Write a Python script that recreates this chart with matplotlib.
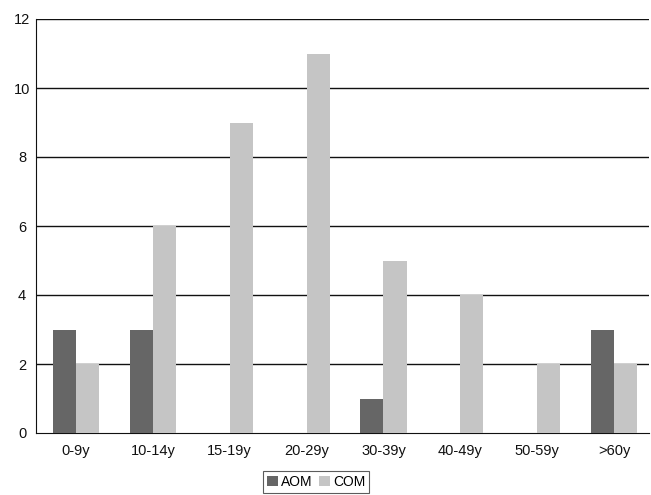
import matplotlib
matplotlib.use("Agg")
import matplotlib.pyplot as plt
import numpy as np

categories = ["0-9y", "10-14y", "15-19y", "20-29y", "30-39y", "40-49y", "50-59y", ">60y"]
aom = [3, 3, 0, 0, 1, 0, 0, 3]
com = [2, 6, 9, 11, 5, 4, 2, 2]
yticks = [0, 2, 4, 6, 8, 10, 12]

plt.rcParams['font.family'] = ['Liberation Sans', 'DejaVu Sans']

fig = plt.figure(figsize=(6.51, 4.95), dpi=100)
ax = fig.add_axes([36/651, 62/495, 612.7/651, 414/495])

x = np.arange(len(categories))
w = 0.3
ax.bar(x - w/2, aom, w, color="#666666", label="AOM", zorder=3)
ax.bar(x + w/2, com, w, color="#c5c5c5", label="COM", zorder=3)

ax.set_xlim(-0.52, len(categories) - 0.55)
ax.set_ylim(0, 12)
ax.set_yticks(yticks)
ax.set_xticks(x)
ax.set_xticklabels(categories)
ax.tick_params(length=0, labelsize=10.5, colors="#111111")
ax.tick_params(axis='x', pad=8)
ax.tick_params(axis='y', pad=10)
for lbl in ax.get_yticklabels():
    lbl.set_horizontalalignment('center')
for y in yticks[1:]:
    ax.axhline(y, color="#111111", lw=1.0, zorder=1)
for s in ["top", "right"]:
    ax.spines[s].set_visible(False)
ax.spines["left"].set_color("#111111")
ax.spines["bottom"].set_color("#111111")

leg = fig.legend(loc="center", bbox_to_anchor=(316/651, 1 - 482/495), ncol=2,
                 frameon=True, fancybox=False, edgecolor="#333333", fontsize=10,
                 handlelength=0.8, handleheight=0.8, handletextpad=0.2,
                 columnspacing=0.5, borderpad=0.3, borderaxespad=0)
leg.get_frame().set_linewidth(0.8)

fig.savefig("out.png", dpi=100)
